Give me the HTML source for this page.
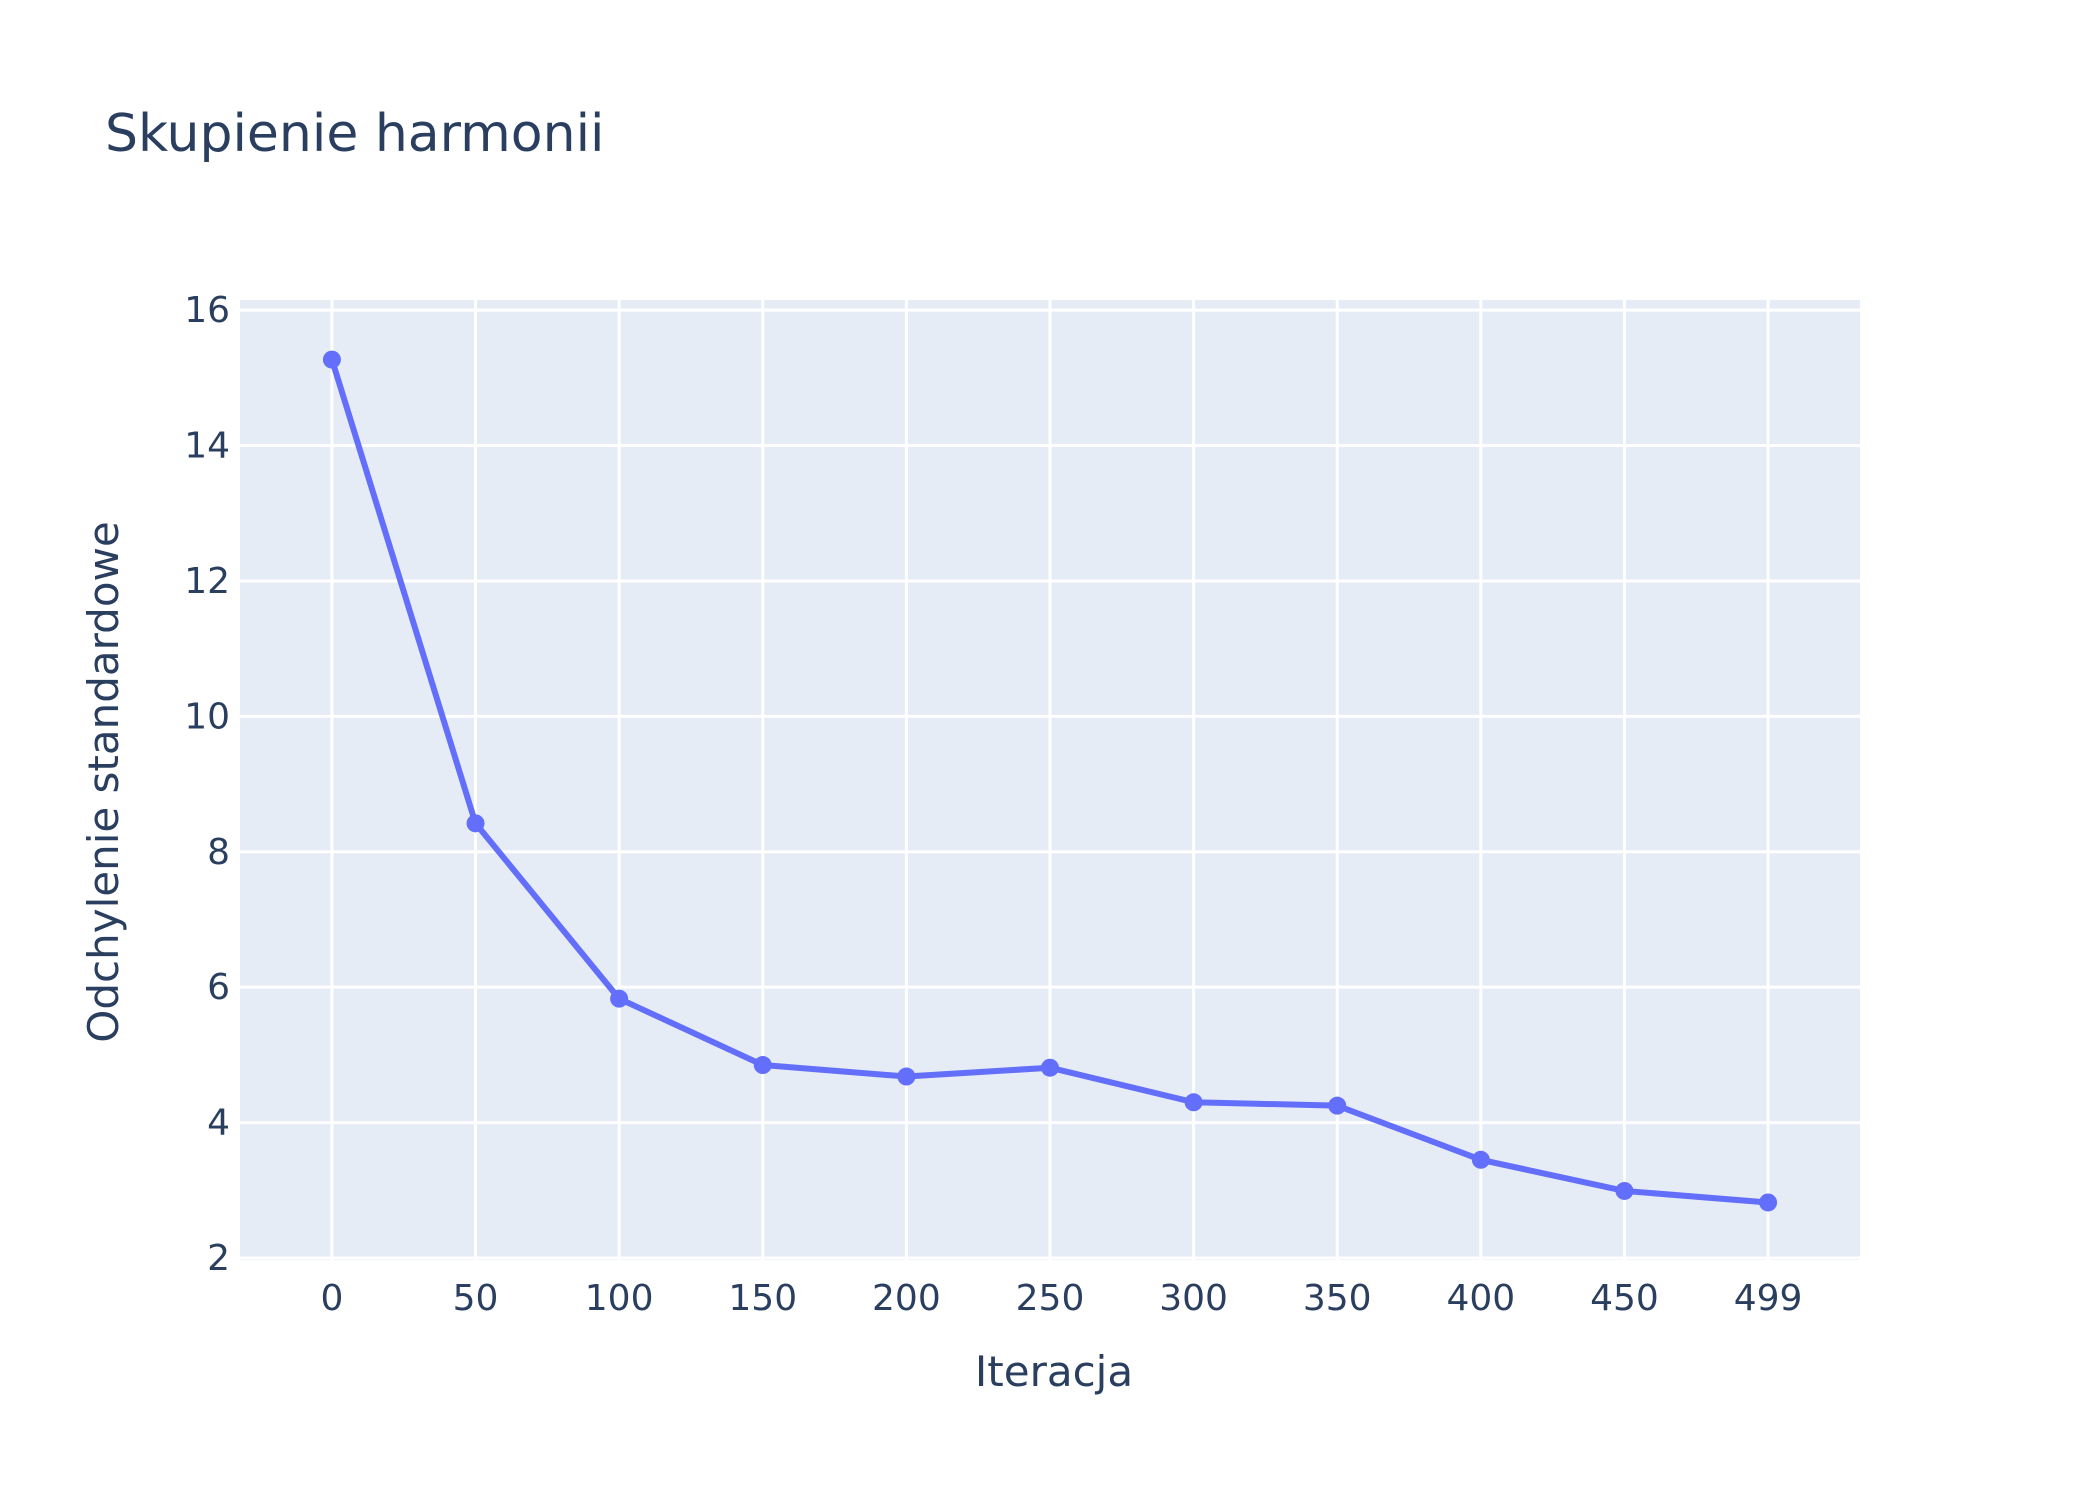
<!DOCTYPE html>
<html><head><meta charset="utf-8"><style>
html,body{margin:0;padding:0;background:#fff;}
svg{display:block;font-family:"DejaVu Sans","Liberation Sans",sans-serif;}
</style></head><body>
<svg id="chart" width="2100" height="1500" viewBox="0 0 2100 1500">
<rect x="0" y="0" width="2100" height="1500" fill="#fff"/>
<rect x="240" y="300" width="1620" height="960" fill="#e5ecf6"/>
<g id="grid"></g>
<g id="series"></g>
<g id="ticks"></g>
<text x="105" y="151" font-size="52" fill="#2a3f5f">Skupienie harmonii</text>
<text x="1054" y="1386" font-size="42" fill="#2a3f5f" text-anchor="middle">Iteracja</text>
<text transform="translate(118,782) rotate(-90)" font-size="42" fill="#2a3f5f" text-anchor="middle">Odchylenie standardowe</text>
</svg>
<script>
const categories = ["0","50","100","150","200","250","300","350","400","450","499"];
const values = [15.27, 8.42, 5.83, 4.85, 4.68, 4.81, 4.30, 4.25, 3.45, 2.99, 2.82];
const yTicks = [2, 4, 6, 8, 10, 12, 14, 16];

const NS = "http://www.w3.org/2000/svg";
const L = 240, R = 1860, T = 300, B = 1260;
const xMin = -0.64, xMax = categories.length - 1 + 0.64;
const yMin = 1.97, yMax = 16.15;
function xs(i){ return L + (i - xMin) / (xMax - xMin) * (R - L); }
function ys(v){ return B - (v - yMin) / (yMax - yMin) * (B - T); }
function mk(tag, attrs, parent){ const e = document.createElementNS(NS, tag); for (const k in attrs) e.setAttribute(k, attrs[k]); parent.appendChild(e); return e; }

const grid = document.getElementById('grid');
const ticks = document.getElementById('ticks');
const series = document.getElementById('series');

yTicks.forEach(v => {
  const y = ys(v);
  const g = mk('line', {x1:L, x2:R, y1:y, y2:y, stroke:'#fff', 'stroke-width':3}, grid);
  
  
  const t = mk('text', {x:230, y:y+12, 'font-size':36, fill:'#2a3f5f', 'text-anchor':'end'}, ticks);
  t.textContent = v;
  
  
});
categories.forEach((c, i) => {
  const x = xs(i);
  const g = mk('line', {x1:x, x2:x, y1:T, y2:B, stroke:'#fff', 'stroke-width':3}, grid);
  
  
  const t = mk('text', {x:x, y:1310, 'font-size':36, fill:'#2a3f5f', 'text-anchor':'middle'}, ticks);
  t.textContent = c;
  
  
});
const pts = values.map((v, i) => xs(i) + ',' + ys(v)).join(' ');
const line = mk('polyline', {points:pts, fill:'none', stroke:'#636efa', 'stroke-width':6, 'stroke-linejoin':'round'}, series);


values.forEach((v, i) => {
  const c = mk('circle', {cx:xs(i), cy:ys(v), r:9, fill:'#636efa'}, series);
  
  
});
</script>
</body></html>
